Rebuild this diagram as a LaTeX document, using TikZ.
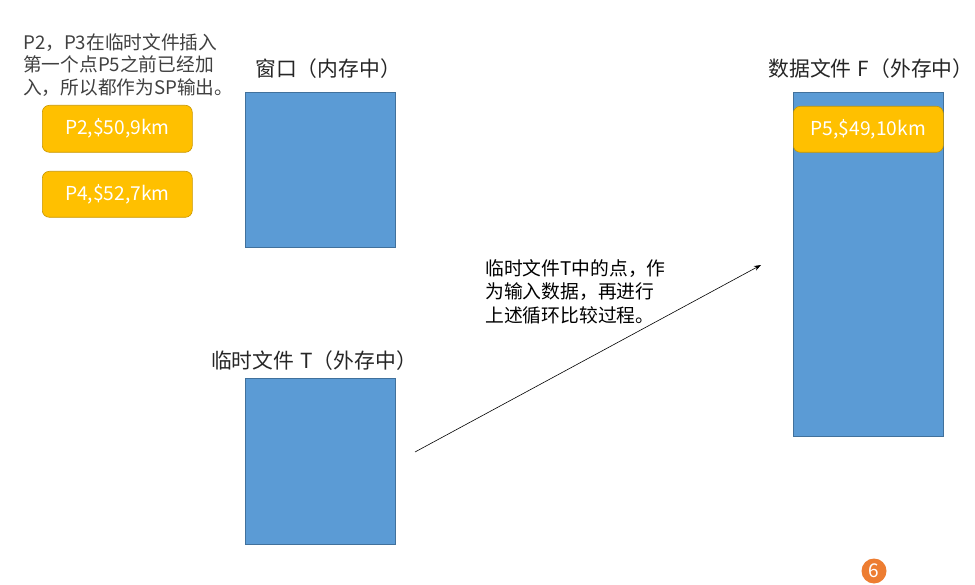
\documentclass[tikz,border=0pt]{standalone}
\usepackage{fontspec}
\setmainfont{Noto Sans CJK SC}
\newfontfamily\cjk{Noto Sans CJK SC}
\usetikzlibrary{arrows.meta}
\definecolor{boxblue}{HTML}{5B9BD5}
\definecolor{boxblueline}{HTML}{41719C}
\definecolor{gold}{HTML}{FFC000}
\definecolor{goldline}{HTML}{C99700}
\definecolor{badge}{HTML}{ED7D31}
\definecolor{txtgray}{HTML}{404040}
\tikzset{
  store/.style={draw=boxblueline, fill=boxblue, line width=0.6pt, inner sep=0pt},
  rec/.style={draw=goldline, fill=gold, line width=0.6pt, rounded corners=7pt, inner sep=0pt,
    text=white, font=\cjk\fontsize{19.2}{22}\selectfont},
  title/.style={font=\cjk\fontsize{20.8}{24}\selectfont, text=black!85, inner sep=0pt},
  note/.style={align=left, inner sep=0pt, anchor=north west},
}
\begin{document}
\begin{tikzpicture}[x=1pt,y=-1pt]
\useasboundingbox (0,0) rectangle (975,585);
% storage boxes
\node[store, minimum width=150pt, minimum height=155pt, anchor=north west] (win) at (245,92) {};
\node[store, minimum width=150pt, minimum height=166pt, anchor=north west] (tmp) at (245,378) {};
\node[store, minimum width=150pt, minimum height=344pt, anchor=north west] (dat) at (793,92) {};
% titles
\node[title] (wint) at (328,69) {窗口（内存中）};
\node[title] (tmpt) at (314,361) {临时文件\hspace{0.3em}T（外存中）};
\node[title] (datt) at (871,69) {数据文件\hspace{0.3em}F（外存中）};
% records
\node[rec, minimum width=150pt, minimum height=47pt, anchor=north west] (p2) at (42,105) {P2,\$50,9km};
\node[rec, minimum width=150pt, minimum height=46pt, anchor=north west] (p4) at (42,171) {P4,\$52,7km};
\node[rec, minimum width=150pt, minimum height=46pt, anchor=north west] (p5) at (793,106) {P5,\$49,10km};
% notes
\node[note, text=txtgray, font=\cjk\fontsize{18.7}{22.5}\selectfont] (n1) at (23,33) {P2，P3在临时文件插入\\第一个点P5之前已经加\\入，所以都作为SP输出。};
\node[note, text=black, font=\cjk\fontsize{18.8}{23.5}\selectfont] (n2) at (485,259) {临时文件T中的点，作\\为输入数据，再进行\\上述循环比较过程。};
% arrow
\coordinate (as) at (415,452);
\coordinate (ae) at (761,265);
\draw[-{Stealth[length=7pt,width=5pt]}, line width=0.6pt] (as) -- (ae);
% badge
\node[circle, fill=badge, minimum size=25pt, inner sep=0pt, text=white, font=\cjk\fontsize{19}{20}\selectfont] (b6) at (874,571) {6};
\end{tikzpicture}
\end{document}
